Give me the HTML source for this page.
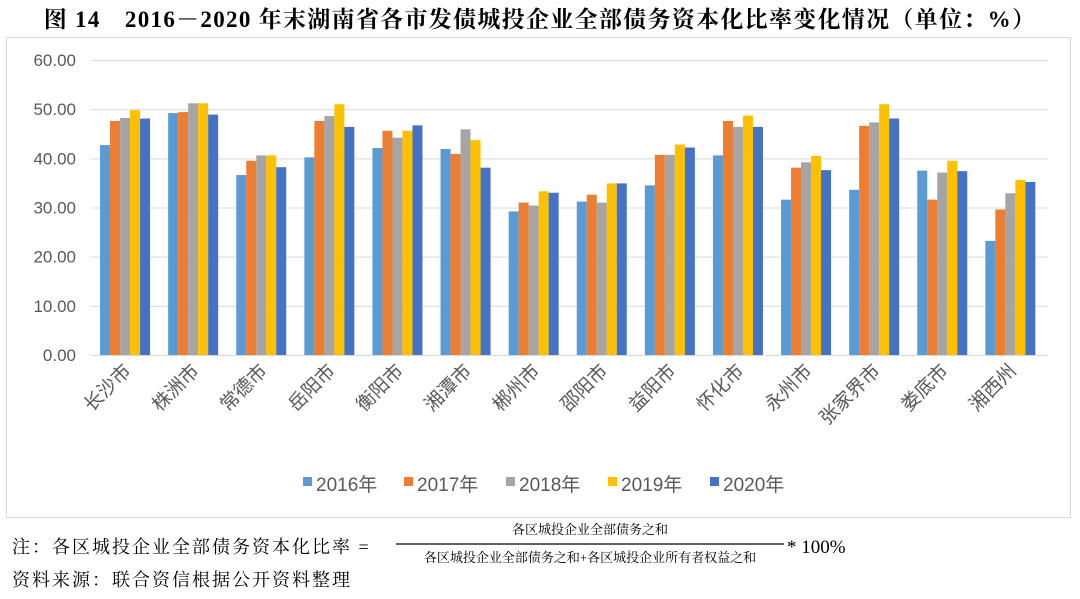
<!DOCTYPE html>
<html><head><meta charset="utf-8"><style>
body{margin:0;background:#fff;width:1080px;height:599px;overflow:hidden;font-family:"Liberation Serif","Noto Serif CJK SC",serif}
svg{position:absolute;left:0;top:0}
</style></head><body>
<svg width="1080" height="599" xmlns="http://www.w3.org/2000/svg">
<text x="540" y="27" text-anchor="middle" font-size="23" letter-spacing="1.3" font-weight="bold" font-family="Liberation Serif, Noto Serif CJK SC, serif">图 14　2016－2020 年末湖南省各市发债城投企业全部债务资本化比率变化情况（单位：%）</text>
<rect x="6.5" y="37.5" width="1064" height="480" fill="#fff" stroke="#d9d9d9"/>
<g id="grid" stroke="#d9d9d9" stroke-width="1"></g>
<g id="bars"></g>
<g id="labels" font-family="Liberation Sans, Noto Sans CJK SC, sans-serif" fill="#595959"></g>
<g font-family="Liberation Sans, Noto Sans CJK SC, sans-serif" font-size="19" fill="#595959">
<rect x="303" y="477" width="9" height="9" fill="#5B9BD5"/><text x="316" y="491">2016年</text>
<rect x="404" y="477" width="9" height="9" fill="#ED7D31"/><text x="417" y="491">2017年</text>
<rect x="506" y="477" width="9" height="9" fill="#A5A5A5"/><text x="519" y="491">2018年</text>
<rect x="608" y="477" width="9" height="9" fill="#FFC000"/><text x="621" y="491">2019年</text>
<rect x="710" y="477" width="9" height="9" fill="#4472C4"/><text x="723" y="491">2020年</text>
</g>
<g font-family="Liberation Serif, Noto Serif CJK SC, serif" fill="#000">
<text x="12" y="553" font-size="18" letter-spacing="2">注：各区城投企业全部债务资本化比率 =</text>
<text x="590" y="534" font-size="13" text-anchor="middle">各区城投企业全部债务之和</text>
<line x1="396" y1="544" x2="784" y2="544" stroke="#000" stroke-width="1.2"/>
<text x="590" y="562" font-size="13" text-anchor="middle">各区城投企业全部债务之和+各区城投企业所有者权益之和</text>
<text x="787" y="553" font-size="19">* 100%</text>
<text x="12" y="586" font-size="18" letter-spacing="2">资料来源：联合资信根据公开资料整理</text>
</g>
</svg>
<script>
const ns="http://www.w3.org/2000/svg";
const names=["长沙市","株洲市","常德市","岳阳市","衡阳市","湘潭市","郴州市","邵阳市","益阳市","怀化市","永州市","张家界市","娄底市","湘西州"];
const d=[[42.7,47.6,48.2,49.8,48.1],[49.2,49.4,51.2,51.2,48.9],[36.6,39.5,40.6,40.6,38.2],[40.2,47.6,48.6,51.0,46.4],[42.1,45.6,44.2,45.6,46.7],[41.9,40.9,45.9,43.7,38.1],[29.2,31.0,30.4,33.3,33.0],[31.2,32.6,31.0,34.9,34.9],[34.5,40.7,40.7,42.8,42.2],[40.6,47.6,46.4,48.7,46.4],[31.6,38.1,39.2,40.5,37.6],[33.6,46.6,47.3,51.0,48.1],[37.5,31.6,37.1,39.5,37.4],[23.2,29.6,32.9,35.6,35.2]];
const cols=["#5B9BD5","#ED7D31","#A5A5A5","#FFC000","#4472C4"];
const y0=355,k=295/60,x0=91,gw=68.1;
const g=document.getElementById("grid"),b=document.getElementById("bars"),l=document.getElementById("labels");
function el(t,a,p,txt){const e=document.createElementNS(ns,t);for(const q in a)e.setAttribute(q,a[q]);if(txt)e.textContent=txt;p.appendChild(e);return e;}
for(let i=0;i<=6;i++){const y=y0-i*10*k;el("line",{x1:x0,x2:1048,y1:y+.5,y2:y+.5},g);el("text",{x:76,y:y+6,"text-anchor":"end","font-size":17},l,(i*10).toFixed(2));}
d.forEach((r,i)=>{const c=x0+gw*(i+.5);r.forEach((v,j)=>{el("rect",{x:c-25+j*10,y:y0-v*k,width:10,height:v*k,fill:cols[j]},b);});
el("text",{x:c+7,y:372,"text-anchor":"end","font-size":19,transform:`rotate(-45 ${c+7} 372)`},l,names[i]);});
</script>
</body></html>
